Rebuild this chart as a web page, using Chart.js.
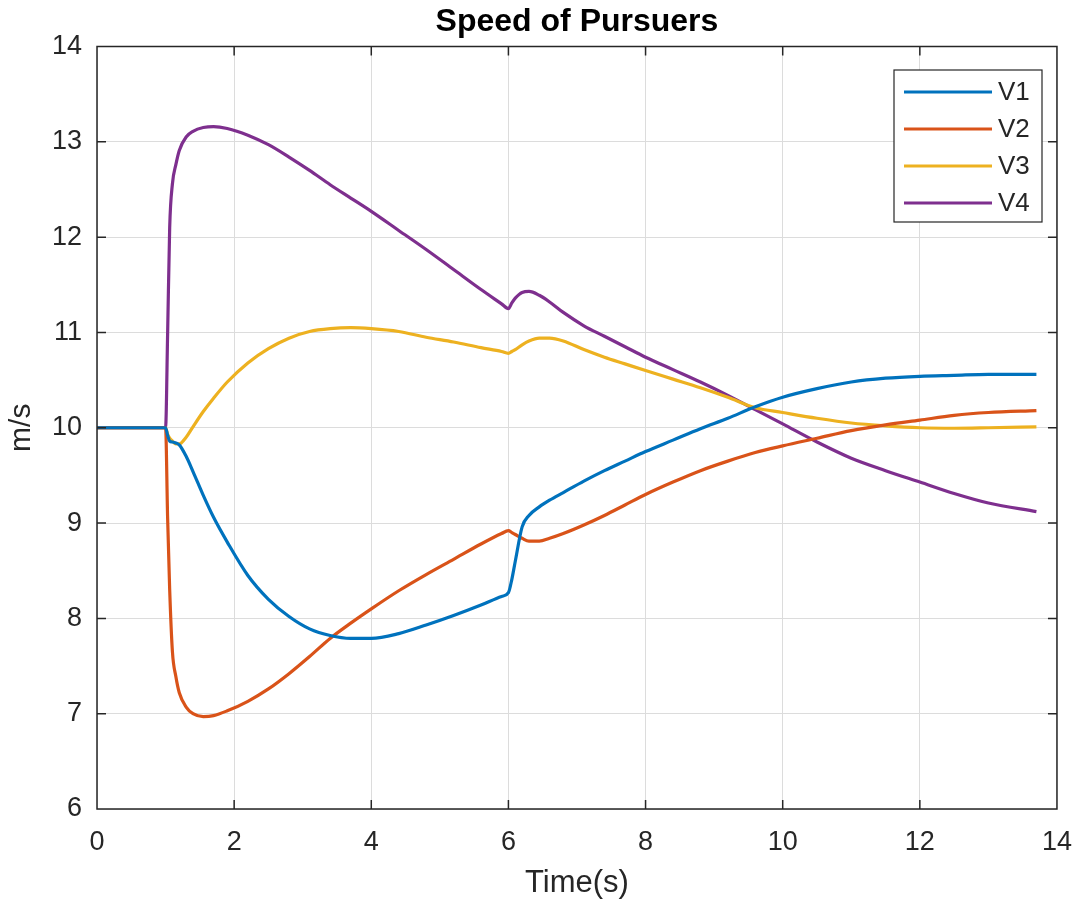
<!DOCTYPE html>
<html>
<head>
<meta charset="utf-8">
<title>Speed of Pursuers</title>
<script src="https://cdn.jsdelivr.net/npm/chart.js@4.4.1/dist/chart.umd.min.js"></script>
<style>
  html, body { margin: 0; padding: 0; background: #fff; }
  #wrap { width: 1089px; height: 907px; }
</style>
</head>
<body>
<div id="wrap"><canvas id="speedChart" width="1089" height="907"></canvas></div>
<script>
// sample times (s)
const time = [0, 1.0, 1.03, 1.06, 1.1, 1.15, 1.2, 1.3, 1.4, 1.55, 1.7, 1.9, 2.2, 2.5, 2.8, 3.1, 3.4, 3.7,
  4.0, 4.4, 4.8, 5.2, 5.6, 5.9, 6.0, 6.05, 6.1, 6.2, 6.3, 6.45, 6.6, 6.8, 7.1, 7.4, 7.7, 8.0, 8.4, 8.8, 9.2, 9.6,
  10.0, 10.5, 11.0, 11.5, 12.0, 12.5, 13.0, 13.7];

// pursuer speeds (m/s)
const v1 = [10, 10, 9.92, 9.86, 9.85, 9.84, 9.82, 9.70, 9.54, 9.29, 9.06, 8.80, 8.45, 8.20, 8.02, 7.89, 7.82, 7.79,
  7.79, 7.84, 7.93, 8.03, 8.14, 8.23, 8.27, 8.41, 8.60, 8.96, 9.08, 9.17, 9.24, 9.32, 9.44, 9.55, 9.65, 9.75, 9.87, 9.99, 10.10, 10.22,
  10.32, 10.41, 10.48, 10.52, 10.54, 10.55, 10.56, 10.56];
const v2 = [10, 10, 9.05, 8.30, 7.65, 7.39, 7.22, 7.07, 7.00, 6.97, 6.98, 7.03, 7.13, 7.26, 7.42, 7.60, 7.79, 7.95,
  8.10, 8.29, 8.46, 8.62, 8.78, 8.89, 8.92, 8.90, 8.88, 8.84, 8.81, 8.81, 8.84, 8.89, 8.98, 9.08, 9.19, 9.30, 9.43, 9.55, 9.65, 9.74,
  9.81, 9.89, 9.97, 10.03, 10.08, 10.13, 10.16, 10.18];
const v3 = [10, 10, 9.93, 9.89, 9.86, 9.83, 9.83, 9.90, 10.01, 10.17, 10.31, 10.48, 10.68, 10.83, 10.94, 11.01, 11.04, 11.05,
  11.04, 11.01, 10.95, 10.90, 10.84, 10.80, 10.78, 10.80, 10.82, 10.87, 10.91, 10.94, 10.94, 10.91, 10.82, 10.74, 10.67, 10.60, 10.51, 10.42, 10.32, 10.21,
  10.16, 10.10, 10.05, 10.02, 10.00, 9.995, 10.00, 10.01];
const v4 = [10, 10, 10.99, 12.10, 12.56, 12.76, 12.91, 13.05, 13.11, 13.15, 13.16, 13.14, 13.07, 12.97, 12.84, 12.70, 12.55, 12.41,
  12.27, 12.07, 11.87, 11.66, 11.45, 11.30, 11.25, 11.31, 11.36, 11.42, 11.43, 11.39, 11.32, 11.21, 11.07, 10.96, 10.85, 10.74, 10.61, 10.48, 10.34, 10.19,
  10.04, 9.85, 9.68, 9.55, 9.43, 9.31, 9.21, 9.12];

const seriesNames = ["V1", "V2", "V3", "V4"];
const seriesColors = ["#0072BD", "#D95319", "#EDB120", "#7E2F8E"];
const xTicks = [0, 2, 4, 6, 8, 10, 12, 14];
const yTicks = [6, 7, 8, 9, 10, 11, 12, 13, 14];
const chartTitle = "Speed of Pursuers";

const W = 1089, H = 907;
const AREA = { left: 97, right: 1066, top: 46.5, bottom: 809 };
const INK = "#262626";
const FONT = "'Liberation Sans', Arial, Helvetica, sans-serif";

// title centred over the axes rather than the whole canvas
const axesTitle = {
  id: "axesTitle",
  afterDraw(chart) {
    const { ctx, chartArea: a } = chart;
    ctx.save();
    ctx.font = "bold 32px " + FONT;
    ctx.fillStyle = "#000";
    ctx.textAlign = "center";
    ctx.textBaseline = "middle";
    ctx.fillText(chartTitle, (a.left + a.right) / 2, 22);
    ctx.restore();
  }
};

// MATLAB-style box with inward tick marks on all four sides
const axesBox = {
  id: "axesBox",
  afterDatasetsDraw(chart) {
    const { ctx, chartArea: a, scales: { x, y } } = chart;
    const len = 9;
    ctx.save();
    ctx.strokeStyle = INK;
    ctx.lineWidth = 1.5;
    ctx.beginPath();
    xTicks.forEach(v => {
      const px = x.getPixelForValue(v);
      ctx.moveTo(px, a.bottom); ctx.lineTo(px, a.bottom - len);
      ctx.moveTo(px, a.top); ctx.lineTo(px, a.top + len);
    });
    yTicks.forEach(v => {
      const py = y.getPixelForValue(v);
      ctx.moveTo(a.left, py); ctx.lineTo(a.left + len, py);
      ctx.moveTo(a.right, py); ctx.lineTo(a.right - len, py);
    });
    ctx.rect(a.left, a.top, a.right - a.left, a.bottom - a.top);
    ctx.stroke();
    ctx.restore();
  }
};

// boxed legend in the upper right corner of the axes
const boxLegend = {
  id: "boxLegend",
  afterDraw(chart) {
    const { ctx } = chart;
    const box = { x: 894, y: 70, w: 148, h: 152 };
    ctx.save();
    ctx.fillStyle = "#fff";
    ctx.fillRect(box.x, box.y, box.w, box.h);
    ctx.strokeStyle = INK;
    ctx.lineWidth = 1.2;
    ctx.strokeRect(box.x, box.y, box.w, box.h);
    ctx.font = "26px " + FONT;
    ctx.textBaseline = "middle";
    ctx.textAlign = "left";
    chart.data.datasets.forEach((ds, i) => {
      const ly = box.y + 22 + i * 37;
      ctx.strokeStyle = ds.borderColor;
      ctx.lineWidth = 3;
      ctx.beginPath();
      ctx.moveTo(box.x + 10, ly);
      ctx.lineTo(box.x + 98, ly);
      ctx.stroke();
      ctx.fillStyle = INK;
      ctx.fillText(ds.label, box.x + 104, ly + 1);
    });
    ctx.restore();
  }
};

const datasets = [v1, v2, v3, v4].map((vals, i) => ({
  label: seriesNames[i],
  data: time.map((t, k) => ({ x: t, y: vals[k] })),
  borderColor: seriesColors[i],
  backgroundColor: seriesColors[i],
  borderWidth: 3.2,
  pointRadius: 0,
  cubicInterpolationMode: "monotone",
  fill: false
}));

new Chart(document.getElementById("speedChart"), {
  type: "line",
  data: { datasets },
  options: {
    responsive: false,
    animation: false,
    devicePixelRatio: 1,
    layout: { padding: { left: 0, right: W - AREA.right, top: AREA.top, bottom: 0 } },
    plugins: {
      legend: { display: false },
      tooltip: { enabled: false },
      title: { display: false }
    },
    scales: {
      x: {
        type: "linear",
        min: 0,
        max: 14,
        afterBuildTicks: s => { s.ticks = xTicks.map(v => ({ value: v })); },
        afterFit: s => { s.height = H - AREA.bottom; },
        grid: { color: "#dcdcdc", lineWidth: 1, drawTicks: false },
        border: { display: false },
        ticks: { color: INK, padding: 17, font: { family: FONT, size: 27 }, maxRotation: 0 },
        title: {
          display: true,
          text: "Time(s)",
          color: INK,
          font: { family: FONT, size: 31, lineHeight: 1.2 },
          padding: { top: 4, bottom: 5 }
        }
      },
      y: {
        type: "linear",
        min: 6,
        max: 14,
        afterBuildTicks: s => { s.ticks = yTicks.map(v => ({ value: v })); },
        afterFit: s => { s.width = AREA.left; },
        grid: { color: "#dcdcdc", lineWidth: 1, drawTicks: false },
        border: { display: false },
        ticks: { color: INK, padding: 15, font: { family: FONT, size: 27 } },
        title: {
          display: true,
          text: "m/s",
          color: INK,
          font: { family: FONT, size: 30, lineHeight: 1.2 },
          padding: { top: 4, bottom: 4 }
        }
      }
    }
  },
  plugins: [axesBox, boxLegend, axesTitle]
});
</script>
</body>
</html>
